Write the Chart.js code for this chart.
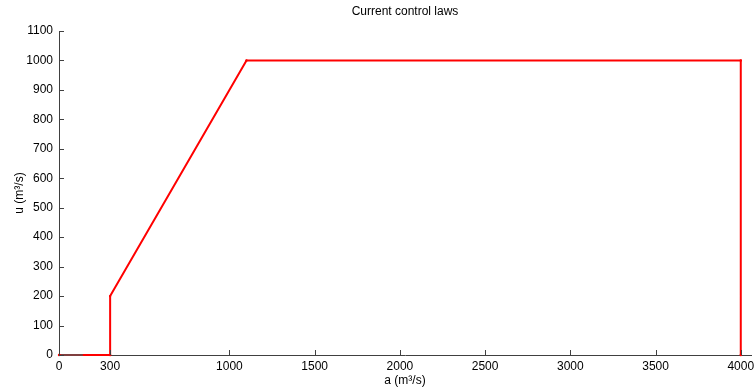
<!DOCTYPE html>
<html>
<head>
<meta charset="utf-8">
<script src="https://cdn.jsdelivr.net/npm/chart.js@4.4.1/dist/chart.umd.min.js"></script>
<style>
  html, body { margin: 0; padding: 0; background: #fff; }
  #wrap { width: 755px; height: 392px; }
</style>
</head>
<body>
<div id="wrap"><canvas id="lawChart" width="755" height="392"></canvas></div>
<script>
// control law: inflow a (m3/s) -> release u (m3/s)
var lawA = [0, 300, 300, 1100, 4000, 4000];
var lawU = [0, 0, 200, 1000, 1000, 0];

// short dark piece lying on the zero line near the origin
var baseA = [10, 140];
var baseU = [0, 0];

var xTicks = [0, 300, 1000, 1500, 2000, 2500, 3000, 3500, 4000];
var yTicks = [0, 100, 200, 300, 400, 500, 600, 700, 800, 900, 1000, 1100];

var titleText = 'Current control laws';

var axisColor = '#404040';
var fontFam = '"Liberation Sans", Arial, sans-serif';

function toPoints(xs, ys) {
    var pts = [];
    for (let i = 0; i < xs.length; i++) {
        pts.push({ x: xs[i], y: ys[i] });
    }
    return pts;
}

// MATLAB style ticks pointing into the plot + title centred on the axes
var innerTicks = {
    id: 'innerTicks',
    afterDraw: function(chart) {
        var ctx = chart.ctx;
        var area = chart.chartArea;
        var xs = chart.scales.x, ys = chart.scales.y;
        ctx.save();
        ctx.strokeStyle = axisColor;
        ctx.lineWidth = 1;
        ctx.beginPath();
        yTicks.forEach(function(v) {
            var py = Math.round(ys.getPixelForValue(v)) + 0.5;
            ctx.moveTo(area.left, py);
            ctx.lineTo(area.left + 5, py);
        });
        xTicks.forEach(function(v) {
            var px = Math.round(xs.getPixelForValue(v)) + 0.5;
            ctx.moveTo(px, area.bottom);
            ctx.lineTo(px, area.bottom - 5);
        });
        ctx.stroke();

        ctx.fillStyle = '#000';
        ctx.font = '12px ' + fontFam;
        ctx.textAlign = 'center';
        ctx.textBaseline = 'middle';
        ctx.fillText(titleText, (area.left + area.right) / 2, 12);
        ctx.restore();
    }
};

new Chart(document.getElementById('lawChart').getContext('2d'), {
    type: 'scatter',
    data: {
        datasets: [{
            data: toPoints(baseA, baseU),
            showLine: true,
            borderColor: '#555555',
            borderWidth: 1.5,
            pointRadius: 0,
            clip: false,
            order: 1
        }, {
            data: toPoints(lawA, lawU),
            showLine: true,
            borderColor: '#ff0000',
            backgroundColor: '#ff0000',
            borderWidth: 2,
            pointRadius: 1.2,
            pointBorderWidth: 0,
            clip: false,
            order: 2
        }]
    },
    options: {
        responsive: false,
        animation: false,
        devicePixelRatio: 1,
        layout: { padding: { left: 0, right: 4, top: 31, bottom: 0 } },
        plugins: {
            legend: { display: false },
            tooltip: { enabled: false },
            title: { display: false }
        },
        scales: {
            x: {
                type: 'linear',
                min: 0,
                max: 4060,
                afterBuildTicks: function(scale) {
                    scale.ticks = xTicks.map(function(v) { return { value: v }; });
                },
                afterFit: function(scale) {
                    scale.height = 37;
                    scale.paddingLeft = 0;
                    scale.paddingRight = 0;
                },
                grid: { display: true, drawOnChartArea: false, drawTicks: false },
                border: { display: true, color: axisColor, width: 1 },
                ticks: {
                    color: '#000',
                    padding: 4,
                    autoSkip: false,
                    maxRotation: 0,
                    font: { family: fontFam, size: 12 },
                    callback: function(v) { return String(v); }
                },
                title: {
                    display: true,
                    text: 'a (m³/s)',
                    color: '#000',
                    font: { family: fontFam, size: 12 },
                    padding: { top: 0, bottom: 4 }
                }
            },
            y: {
                type: 'linear',
                min: 0,
                max: 1100,
                afterBuildTicks: function(scale) {
                    scale.ticks = yTicks.map(function(v) { return { value: v }; });
                },
                afterFit: function(scale) {
                    scale.width = 59;
                    scale.paddingTop = 0;
                    scale.paddingBottom = 0;
                },
                grid: { display: true, drawOnChartArea: false, drawTicks: false },
                border: { display: true, color: axisColor, width: 1 },
                ticks: {
                    color: '#000',
                    padding: 6,
                    autoSkip: false,
                    font: { family: fontFam, size: 12 },
                    callback: function(v) { return String(v); }
                },
                title: {
                    display: true,
                    text: 'u (m³/s)',
                    color: '#000',
                    font: { family: fontFam, size: 12 },
                    padding: { top: 12, bottom: 0 }
                }
            }
        }
    },
    plugins: [innerTicks]
});
</script>
</body>
</html>
